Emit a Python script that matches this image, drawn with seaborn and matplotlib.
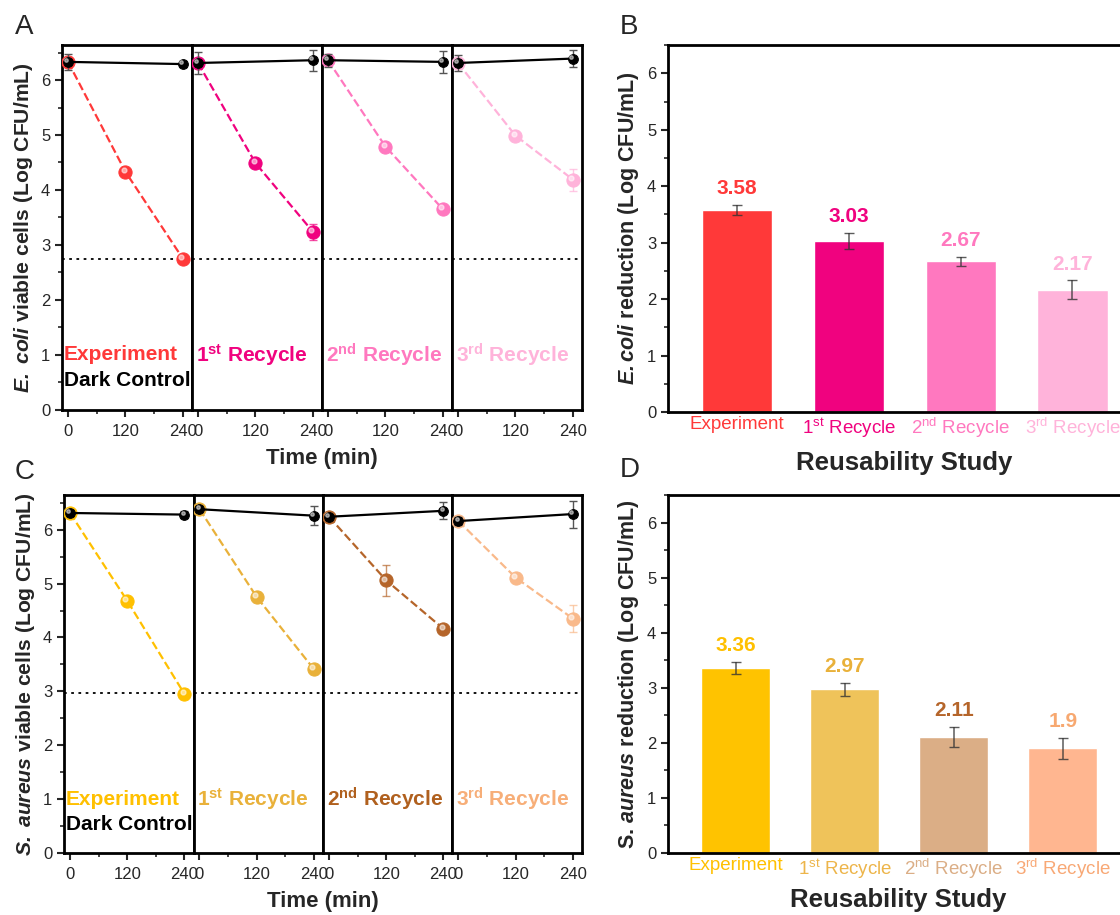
import matplotlib
matplotlib.use('Agg')
import numpy as np
import seaborn as sns
import matplotlib.pyplot as plt
from matplotlib.ticker import MultipleLocator
from matplotlib.transforms import ScaledTranslation

sns.set_style('white')
plt.rcParams['font.family'] = ['Liberation Sans', 'DejaVu Sans']
plt.rcParams['mathtext.fontset'] = 'custom'
plt.rcParams['mathtext.rm'] = 'Liberation Sans'
plt.rcParams['mathtext.it'] = 'Liberation Sans:italic'
plt.rcParams['mathtext.bf'] = 'Liberation Sans:bold'
plt.rcParams['mathtext.bfit'] = 'Liberation Sans:italic:bold'

# --- data ---
times = [0, 120, 240]
dark_times = [0, 240]
stages = ['Experiment', '1st Recycle', '2nd Recycle', '3rd Recycle']
stage_ticks = ['Experiment', r'1$^{\mathrm{st}}$ Recycle', r'2$^{\mathrm{nd}}$ Recycle', r'3$^{\mathrm{rd}}$ Recycle']
stage_bold = ['Experiment', r'1$^{\mathbf{st}}$ Recycle', r'2$^{\mathbf{nd}}$ Recycle', r'3$^{\mathbf{rd}}$ Recycle']

# E. coli viable cells
ecoli_exp = [[6.33, 4.33, 2.75], [6.31, 4.49, 3.24], [6.36, 4.79, 3.65], [6.31, 4.99, 4.19]]
ecoli_exp_err = [[0.05, 0.05, 0.05], [0.05, 0.05, 0.15], [0.05, 0.05, 0.05], [0.05, 0.05, 0.20]]
ecoli_dark = [[6.33, 6.29], [6.31, 6.36], [6.36, 6.33], [6.31, 6.39]]
ecoli_dark_err = [[0.15, 0.06], [0.20, 0.19], [0.12, 0.20], [0.15, 0.15]]
ecoli_cutoff = 2.75

# S. aureus viable cells
saureus_exp = [[6.31, 4.68, 2.95], [6.38, 4.75, 3.41], [6.24, 5.06, 4.16], [6.16, 5.11, 4.35]]
saureus_exp_err = [[0.05, 0.05, 0.10], [0.06, 0.10, 0.08], [0.06, 0.29, 0.08], [0.08, 0.08, 0.25]]
saureus_dark = [[6.31, 6.28], [6.38, 6.26], [6.24, 6.35], [6.16, 6.29]]
saureus_dark_err = [[0.05, 0.06], [0.06, 0.18], [0.06, 0.16], [0.08, 0.25]]
saureus_cutoff = 2.97

# reductions
ecoli_red = [3.58, 3.03, 2.67, 2.17]
ecoli_red_err = [0.09, 0.15, 0.08, 0.16]
saureus_red = [3.36, 2.97, 2.11, 1.9]
saureus_red_err = [0.11, 0.12, 0.18, 0.19]

# colours
ecoli_colors = ['#FF3939', '#F0027F', '#FF78BF', '#FFB3DA']
saureus_line = ['#FFC000', '#E9B13A', '#B5652A', '#F9B98A']
saureus_text = ['#FFC000', '#E9B13A', '#B0601E', '#F7AE78']
saureus_bar = ['#FFC300', '#EFC35A', '#DBAE86', '#FFB690']
saureus_tick = ['#FFC000', '#EDB54A', '#DBAE86', '#F8A875']
saureus_val = ['#FFC000', '#E9B13A', '#B5652A', '#F7A870']

fig = plt.figure(figsize=(11.2, 9.15), dpi=100)


def style_frame(ax):
    for s in ax.spines.values():
        s.set_visible(True)
        s.set_linewidth(2)
        s.set_color('black')


def time_panel(left, bottom, width, height, exp, exp_err, dark, dark_err,
               colors, text_colors, cutoff, ylabel):
    w = width / 4
    for i in range(4):
        ax = fig.add_axes([left + i * w, bottom, w, height])
        c = colors[i]
        ax.axhline(cutoff, ls=(0, (1.5, 2.5)), color='black', lw=1.3, zorder=1)
        sns.lineplot(x=times, y=exp[i], ax=ax, color=c, linestyle='--', lw=1.6,
                     marker='o', markersize=9.5, markeredgecolor=c, zorder=3)
        ax.errorbar(times, exp[i], yerr=exp_err[i], fmt='none', ecolor=c,
                    alpha=0.7, capsize=3, elinewidth=1, zorder=2)
        hl = ax.transData + ScaledTranslation(-1.3 / 72, 1.3 / 72, fig.dpi_scale_trans)
        ax.plot(times, exp[i], 'o', ms=3.5, color='white', alpha=0.55, transform=hl, zorder=4)
        sns.lineplot(x=dark_times, y=dark[i], ax=ax, color='black', lw=1.6,
                     marker='o', markersize=7, markeredgecolor='black', zorder=5)
        ax.errorbar(dark_times, dark[i], yerr=dark_err[i], fmt='none', ecolor='#555555',
                    capsize=3, elinewidth=1, zorder=4)
        ax.plot(dark_times, dark[i], 'o', ms=2.5, color='white', alpha=0.5, transform=hl, zorder=6)
        ax.set_xlim(-12.5, 259)
        ax.set_ylim(0, 6.64)
        ax.set_xticks(times)
        ax.set_xticklabels([str(t) for t in times])
        ax.xaxis.set_minor_locator(MultipleLocator(60))
        ax.set_xlabel('')
        style_frame(ax)
        ax.tick_params(axis='x', which='major', direction='out', length=5, width=1.5,
                       labelsize=12, bottom=True, pad=5)
        ax.tick_params(axis='x', which='minor', direction='out', length=3, width=1.2, bottom=True)
        if i == 0:
            ax.set_yticks(range(7))
            ax.yaxis.set_minor_locator(MultipleLocator(0.5))
            ax.tick_params(axis='y', which='major', direction='out', length=5, width=1.5,
                           labelsize=12, left=True)
            ax.tick_params(axis='y', which='minor', direction='out', length=3, width=1.2, left=True)
            ax.set_ylabel(ylabel, fontsize=15.2, fontweight='bold', labelpad=4)
            ax.text(0.015, 1.0, 'Experiment', transform=ax.get_yaxis_transform(),
                    color=text_colors[0], fontsize=15, fontweight='bold', va='center')
            ax.text(0.015, 0.53, 'Dark Control', transform=ax.get_yaxis_transform(),
                    color='black', fontsize=15, fontweight='bold', va='center')
        else:
            ax.set_yticks(range(7))
            ax.tick_params(axis='y', left=False, labelleft=False)
            ax.set_ylabel('')
            ax.text(0.03, 1.0, stage_bold[i], transform=ax.get_yaxis_transform(),
                    color=text_colors[i], fontsize=15, fontweight='bold', va='center')
    fig.text(left + width / 2, bottom - 0.053, 'Time (min)', ha='center', va='center',
             fontsize=16, fontweight='bold')


def bar_panel(rect, vals, errs, bar_colors, tick_colors, val_colors, ylabel, xpad):
    ax = fig.add_axes(rect)
    sns.barplot(x=stages, y=vals, hue=stages, palette=bar_colors, legend=False,
                width=0.63, saturation=1, ax=ax)
    ax.errorbar(range(len(vals)), vals, yerr=errs, fmt='none', ecolor='#333333',
                alpha=0.8, capsize=3.5, elinewidth=1.1)
    for i, (v, e) in enumerate(zip(vals, errs)):
        ax.text(i, v + e + 0.12, f'{v:g}', ha='center', va='bottom', color=val_colors[i],
                fontsize=15, fontweight='bold')
    ax.set_xlim(-0.62, 3.6)
    ax.set_ylim(0, 6.5)
    ax.set_yticks(range(7))
    ax.yaxis.set_minor_locator(MultipleLocator(0.5))
    ax.set_xticks(range(4))
    ax.set_xticklabels(stage_ticks)
    for lab, col in zip(ax.get_xticklabels(), tick_colors):
        lab.set_color(col)
    style_frame(ax)
    ax.tick_params(axis='x', length=0, labelsize=13.5, pad=3)
    ax.tick_params(axis='y', which='major', direction='out', length=5, width=1.5,
                   labelsize=12, left=True)
    ax.tick_params(axis='y', which='minor', direction='out', length=3, width=1.2, left=True)
    ax.set_ylabel(ylabel, fontsize=15.5, fontweight='bold', labelpad=4)
    ax.set_xlabel('Reusability Study', fontsize=18.5, fontweight='bold', labelpad=xpad)


time_panel(0.0554, 0.552, 0.4642, 0.399, ecoli_exp, ecoli_exp_err, ecoli_dark, ecoli_dark_err,
           ecoli_colors, ecoli_colors, ecoli_cutoff,
           r'$\mathbfit{E.\ coli}$ viable cells (Log CFU/mL)')
time_panel(0.0572, 0.0678, 0.4624, 0.391, saureus_exp, saureus_exp_err, saureus_dark,
           saureus_dark_err, saureus_line, saureus_text, saureus_cutoff,
           r'$\mathbfit{S.\ aureus}$ viable cells (Log CFU/mL)')

bar_panel([0.5964, 0.5497, 0.421, 0.401], ecoli_red, ecoli_red_err, ecoli_colors,
          ecoli_colors, ecoli_colors, r'$\mathbfit{E.coli}$ reduction (Log CFU/mL)', 8)
bar_panel([0.5964, 0.0678, 0.411, 0.391], saureus_red, saureus_red_err, saureus_bar,
          saureus_tick, saureus_val, r'S. $\mathbfit{aureus}$ reduction (Log CFU/mL)', 5)

for lbl, x, y in [('A', 0.013, 0.9705), ('B', 0.553, 0.9705), ('C', 0.013, 0.484), ('D', 0.553, 0.486)]:
    fig.text(x, y, lbl, fontsize=20, ha='left', va='center')

fig.savefig('out.png', dpi=100)
